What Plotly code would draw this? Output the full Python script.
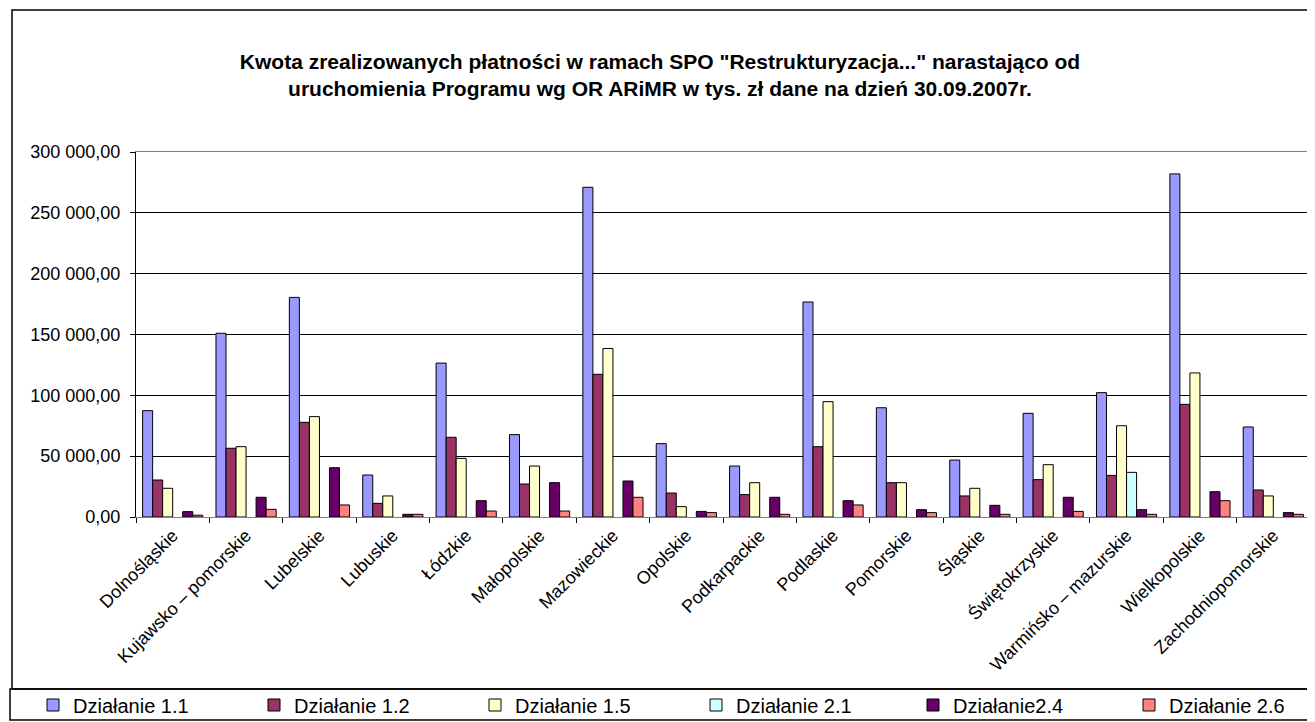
import plotly.graph_objects as go

# regions (categories)
regions = ["Dolnośląskie", "Kujawsko – pomorskie", "Lubelskie", "Lubuskie", "Łódzkie",
           "Małopolskie", "Mazowieckie", "Opolskie", "Podkarpackie", "Podlaskie",
           "Pomorskie", "Śląskie", "Świętokrzyskie", "Warmińsko – mazurskie",
           "Wielkopolskie", "Zachodniopomorskie"]

# payments, tys. zł
dz_1_1 = [87400, 151000, 180500, 34500, 126500, 67700, 271000, 60300, 41900, 176700,
          89800, 46800, 85200, 102200, 282000, 74000]
dz_1_2 = [30400, 56500, 77800, 11200, 65500, 27100, 117300, 19700, 18400, 57800,
          28200, 17300, 30700, 34200, 92600, 22200]
dz_1_5 = [23600, 57800, 82500, 17300, 48200, 41900, 138500, 8500, 28200, 94800,
          28200, 23600, 43000, 75000, 118400, 17300]
dz_2_1 = [None, None, None, None, None, None, None, None, None, None,
          None, None, None, 36700, None, None]
dz_2_4 = [4400, 16200, 40500, 2200, 13400, 28200, 29600, 4600, 16200, 13400,
          6000, 9600, 16200, 6000, 20800, 3600]
dz_2_6 = [1500, 6300, 9900, 2200, 4900, 4900, 16200, 3600, 2200, 9900,
          3600, 2200, 4600, 2200, 13400, 2200]

names = ["Działanie 1.1", "Działanie 1.2", "Działanie 1.5", "Działanie 2.1",
         "Działanie2.4", "Działanie 2.6"]
values = [dz_1_1, dz_1_2, dz_1_5, dz_2_1, dz_2_4, dz_2_6]
colors = ["#9999FF", "#993366", "#FFFFCC", "#CCFFFF", "#660066", "#FF8080"]

FONT = "Liberation Sans, Arial, sans-serif"

# page has an 8px body margin, so the figure starts at (8, 8)
OFF = 8
W, H = 1315 - OFF, 722 - OFF
L, R, T, B = 136 - OFF, W - (1310 - OFF), 152 - OFF, H - (517 - OFF)
pw, ph = W - L - R, H - T - B

def px_x(p):
    return (p - OFF - L) / pw

def px_y(p):
    return (H - B - (p - OFF)) / ph

# legend entries sit side by side in the bottom box, one legend each
legend_left = [54, 275, 496, 717, 934, 1150]

fig = go.Figure()
legends = {}
for i, (name, vals, col) in enumerate(zip(names, values, colors)):
    key = "legend%d" % (i + 2)
    fig.add_trace(go.Bar(x=regions, y=vals, name=name, legend=key, showlegend=True,
                         marker=dict(color=col, line=dict(color="black", width=1))))
    legends[key] = dict(orientation="h", x=px_x(legend_left[i] - 21), xanchor="left",
                        y=px_y(705), yanchor="middle",
                        font=dict(family=FONT, size=20, color="black"),
                        bgcolor="rgba(0,0,0,0)")

fig.update_layout(
    width=W, height=H,
    margin=dict(l=L, r=R, t=T, b=B, autoexpand=False),
    paper_bgcolor="white", plot_bgcolor="white",
    separators=", ",
    font=dict(family=FONT, size=16, color="black"),
    barmode="group", bargap=0.18, bargroupgap=0,
    title=dict(
        text="Kwota zrealizowanych płatności w ramach SPO \"Restrukturyzacja...\" narastająco od<br>"
             "uruchomienia Programu wg OR ARiMR w tys. zł dane na dzień 30.09.2007r.",
        font=dict(family=FONT, size=21, color="black", weight="bold"),
        x=(660 - OFF) / W, xanchor="center", xref="container",
        y=1 - (69 - OFF) / H, yanchor="middle", yref="container",
    ),
    xaxis=dict(showline=True, linecolor="#808080", linewidth=1, mirror=True,
               ticks="outside", tickson="boundaries", ticklen=5, tickcolor="black",
               tickangle=-45, tickfont=dict(size=18), showgrid=False),
    yaxis=dict(range=[0, 300000], dtick=50000, tickformat=",.2f",
               showline=True, linecolor="black", linewidth=1,
               ticks="outside", ticklen=5, tickcolor="black", ticklabelstandoff=6,
               showgrid=True, gridcolor="black", gridwidth=1,
               zeroline=False, tickfont=dict(size=18)),
    shapes=[
        dict(type="rect", xref="paper", yref="paper",
             x0=px_x(12), x1=px_x(1313), y0=px_y(689), y1=px_y(10),
             line=dict(color="black", width=1.5)),
        dict(type="rect", xref="paper", yref="paper",
             x0=px_x(10), x1=px_x(1313), y0=px_y(720), y1=px_y(689),
             line=dict(color="black", width=1.5)),
        dict(type="line", xref="paper", yref="paper",
             x0=1, x1=1, y0=0, y1=1, line=dict(color="#808080", width=1)),
    ],
    **legends,
)

fig.write_html("out.html")
